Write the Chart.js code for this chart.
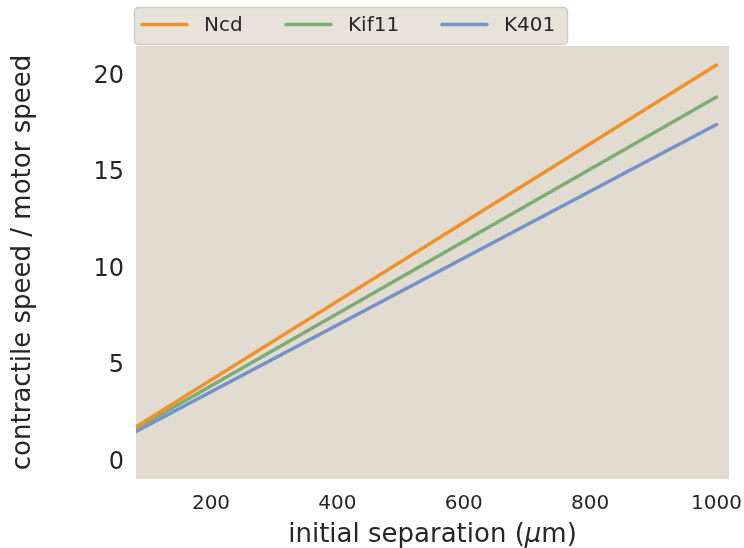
<!DOCTYPE html>
<html>
<head>
<meta charset="utf-8">
<script src="https://cdn.jsdelivr.net/npm/chart.js@4"></script>
<style>
  html, body { margin: 0; padding: 0; background: #ffffff; }
  canvas { display: block; }
</style>
</head>
<body>
<canvas id="chart" width="744" height="548"></canvas>
<script>
// contractile speed relative to motor speed, linear in initial separation
var separation = [80, 1000];
var ncdRatio = [1.82, 20.59];
var kif11Ratio = [1.72, 18.94];
var k401Ratio = [1.58, 17.51];

var motorNames = ['Ncd', 'Kif11', 'K401'];
var motorColors = ['#f0922c', '#7eac77', '#7593ca'];
var xTicks = [200, 400, 600, 800, 1000];
var yTicks = [0, 5, 10, 15, 20];

var TEXT = '#262626';
var FONT = "'DejaVu Sans', sans-serif";

function points(ys) {
  return separation.map(function (x, i) { return { x: x, y: ys[i] }; });
}

// plot background
var plotBg = {
  id: 'plotBg',
  beforeDraw: function (chart) {
    var a = chart.chartArea, ctx = chart.ctx;
    ctx.save();
    ctx.fillStyle = '#e2dbd0';
    ctx.fillRect(a.left, a.top, a.right - a.left, a.bottom - a.top);
    ctx.restore();
  }
};

// x title with an italic mu
var xTitle = {
  id: 'xTitle',
  afterDraw: function (chart) {
    var ctx = chart.ctx, a = chart.chartArea;
    var parts = [
      { t: 'initial separation (', f: '26px ' + FONT },
      { t: '\u03bc', f: 'italic 26px ' + FONT },
      { t: 'm)', f: '26px ' + FONT }
    ];
    ctx.save();
    var total = 0;
    parts.forEach(function (p) { ctx.font = p.f; p.w = ctx.measureText(p.t).width; total += p.w; });
    var x = (a.left + a.right) / 2 - total / 2;
    ctx.fillStyle = TEXT;
    ctx.textBaseline = 'alphabetic';
    ctx.textAlign = 'left';
    parts.forEach(function (p) { ctx.font = p.f; ctx.fillText(p.t, x, 542); x += p.w; });
    ctx.restore();
  }
};

// framed legend sitting on top of the plot
var boxLegend = {
  id: 'boxLegend',
  afterDraw: function (chart) {
    var ctx = chart.ctx;
    var x = 134.5, y = 7.5, w = 433, h = 37, r = 4;
    ctx.save();
    ctx.beginPath();
    ctx.moveTo(x + r, y);
    ctx.arcTo(x + w, y, x + w, y + h, r);
    ctx.arcTo(x + w, y + h, x, y + h, r);
    ctx.arcTo(x, y + h, x, y, r);
    ctx.arcTo(x, y, x + w, y, r);
    ctx.closePath();
    ctx.fillStyle = '#e8e3da';
    ctx.fill();
    ctx.strokeStyle = '#cfcdc9';
    ctx.lineWidth = 1.5;
    ctx.stroke();

    var swatchX = [142, 286, 442];
    ctx.font = '20px ' + FONT;
    ctx.textBaseline = 'middle';
    ctx.textAlign = 'left';
    chart.data.datasets.forEach(function (ds, i) {
      ctx.beginPath();
      ctx.moveTo(swatchX[i], 24.5);
      ctx.lineTo(swatchX[i] + 45, 24.5);
      ctx.strokeStyle = ds.borderColor;
      ctx.lineWidth = 3.5;
      ctx.lineCap = 'round';
      ctx.stroke();
      ctx.fillStyle = TEXT;
      ctx.fillText(ds.label, swatchX[i] + 62, 25.5);
    });
    ctx.restore();
  }
};

new Chart(document.getElementById('chart'), {
  type: 'line',
  data: {
    datasets: [
      { label: motorNames[0], data: points(ncdRatio), borderColor: motorColors[0] },
      { label: motorNames[1], data: points(kif11Ratio), borderColor: motorColors[1] },
      { label: motorNames[2], data: points(k401Ratio), borderColor: motorColors[2] }
    ]
  },
  options: {
    responsive: false,
    animation: false,
    layout: { padding: { top: 46, right: 15, left: 0, bottom: 0 } },
    elements: {
      line: { borderWidth: 3.5, tension: 0, borderCapStyle: 'round' },
      point: { radius: 0, hoverRadius: 0 }
    },
    plugins: {
      legend: { display: false },
      tooltip: { enabled: false }
    },
    scales: {
      x: {
        type: 'linear',
        min: 81.3,
        max: 1019.8,
        afterBuildTicks: function (s) { s.ticks = xTicks.map(function (v) { return { value: v }; }); },
        afterFit: function (s) { s.height = 69; s.paddingLeft = 0; s.paddingRight = 0; },
        grid: { display: false, drawTicks: false },
        border: { display: false },
        ticks: {
          color: TEXT, font: { family: FONT, size: 20 }, padding: 13, maxRotation: 0,
          callback: function (v) { return String(v); }
        },
        title: { display: false }
      },
      y: {
        min: -0.86,
        max: 21.58,
        afterBuildTicks: function (s) { s.ticks = yTicks.map(function (v) { return { value: v }; }); },
        afterFit: function (s) { s.width = 136; },
        grid: { display: false, drawTicks: false },
        border: { display: false },
        ticks: { color: TEXT, font: { family: FONT, size: 24 }, padding: 12 },
        title: { display: true, text: 'contractile speed / motor speed', color: TEXT, font: { family: FONT, size: 26 }, padding: { top: 8, bottom: 0 } }
      }
    }
  },
  plugins: [plotBg, xTitle, boxLegend]
});
</script>
</body>
</html>
